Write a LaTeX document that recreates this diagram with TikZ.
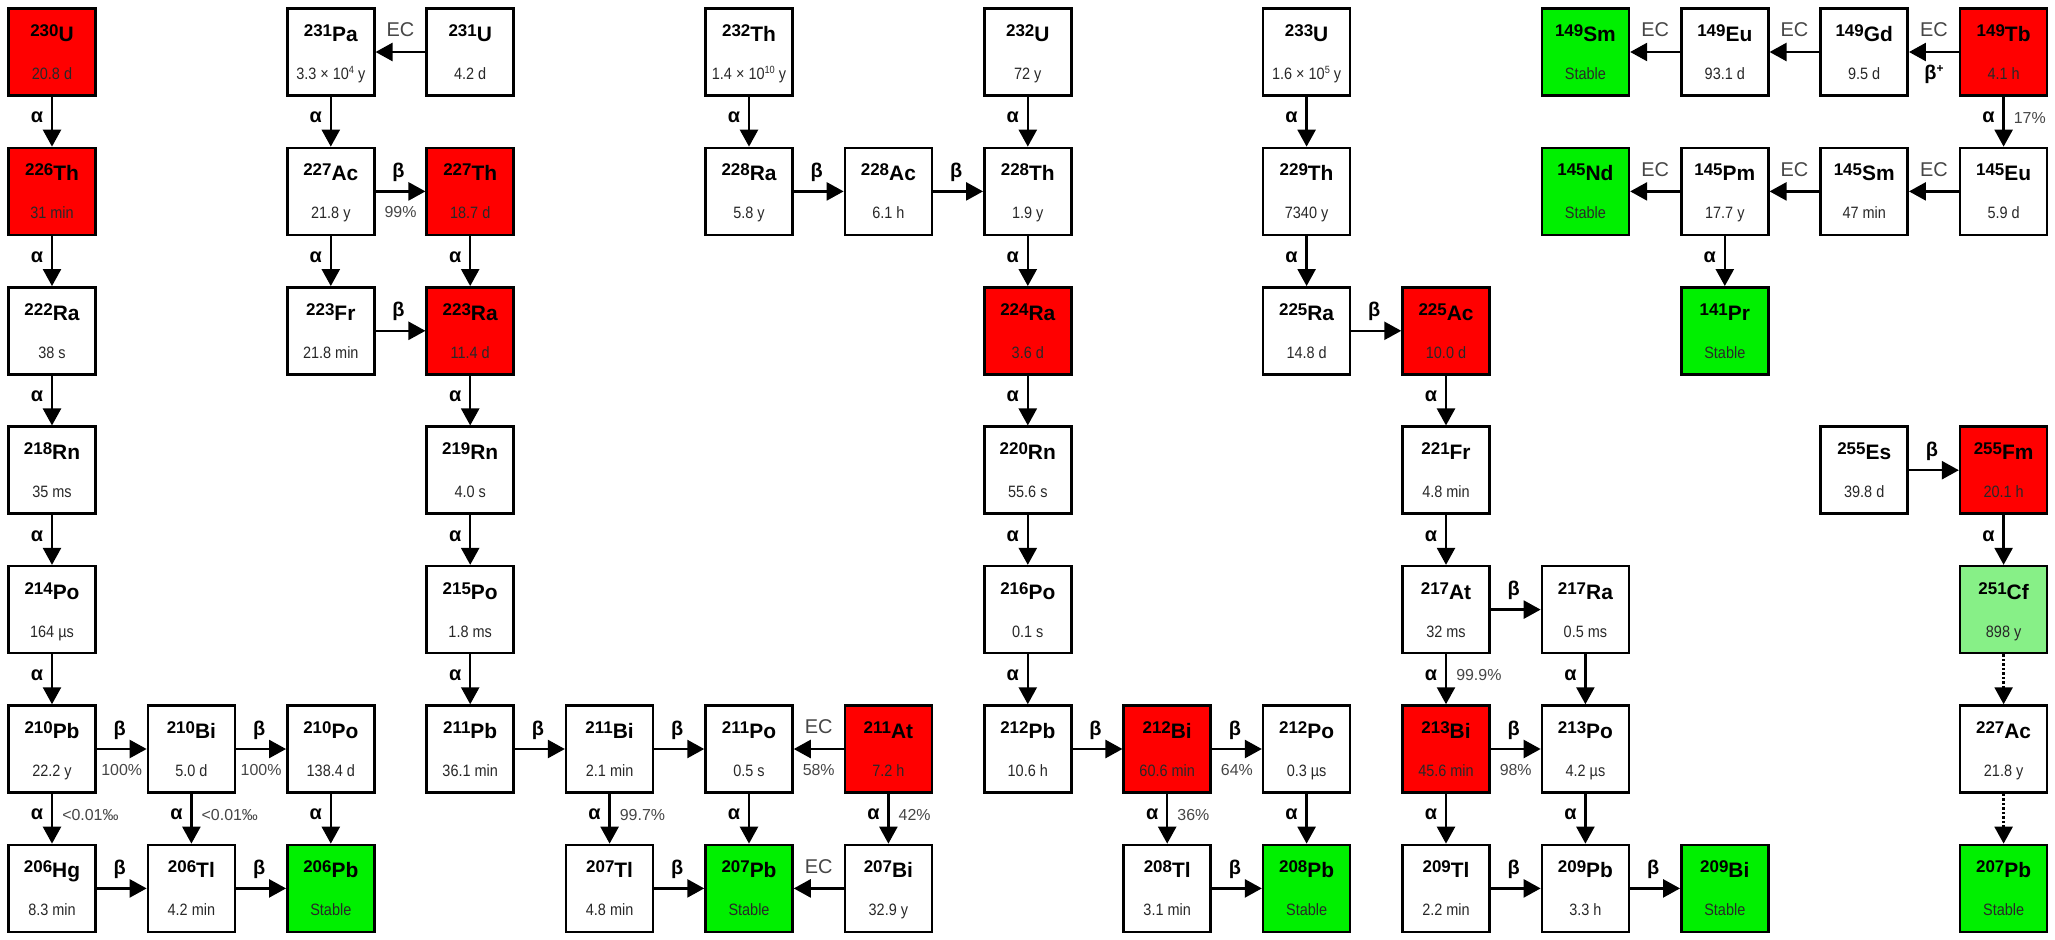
\documentclass[tikz,border=0pt]{standalone}
\usepackage{fontspec}
\setmainfont{Liberation Sans}
\newfontfamily\hlfont[FakeStretch=0.88]{Liberation Sans}
\usetikzlibrary{arrows.meta}
\definecolor{nred}{RGB}{255,0,0}
\definecolor{ngreen}{RGB}{0,240,0}
\definecolor{lgreen}{RGB}{135,240,135}
\definecolor{htext}{RGB}{40,40,40}
\definecolor{lbl}{RGB}{70,70,70}
\newcommand{\iso}[2]{\rule{0pt}{22bp}{\fontsize{17}{17}\selectfont\bfseries\raisebox{5bp}{#1}}{\fontsize{21}{21}\selectfont\bfseries #2}}
\newcommand{\hlt}[1]{{\fontsize{16.5}{38}\hlfont\color{htext}#1}\rule[-5bp]{0pt}{5bp}}
\newcommand{\tenp}[1]{\raisebox{5.5bp}{\fontsize{10.5}{10}\selectfont #1}}
\newcommand{\nuclide}[7]{\node[nucbox,fill=#7] (#1) at ({52+139.4*#2},{-52-139.4*#3}) {\iso{#4}{#5}\\\hlt{#6}};}
\begin{document}
\begin{tikzpicture}[x=1bp,y=1bp,
  nucbox/.style={draw, line width=2.5bp, minimum size=87bp, inner sep=0pt, align=center, font=\fontsize{16}{38}\selectfont},
  arr/.style={line width=2.5bp, -{Triangle[length=17bp,width=18bp]}},
  dotarr/.style={arr, dash pattern=on 2.5bp off 2bp},
  al/.style={font=\fontsize{20}{20}\selectfont\bfseries, inner sep=0pt},
  ec/.style={font=\fontsize{20}{20}\selectfont, text=lbl, inner sep=0pt},
  pc/.style={font=\fontsize{16}{16}\selectfont, text=lbl, inner sep=0pt},
  va/.style={al, midway, xshift=-15bp, yshift=4bp},
  vp/.style={pc, midway, anchor=west, xshift=9bp, yshift=4bp},
  hb/.style={al, midway, xshift=-2bp, yshift=19bp},
  hp/.style={pc, midway, yshift=-21bp},
  hec/.style={ec, midway, yshift=22bp},
  hbp/.style={al, midway, yshift=-22bp}]
\fill[white] (0,0) rectangle (2055,-940);
\useasboundingbox (0,0) rectangle (2055,-940);
% nuclides
\nuclide{u230}{0}{0}{230}{U}{20.8 d}{nred}
\nuclide{th226}{0}{1}{226}{Th}{31 min}{nred}
\nuclide{ra222}{0}{2}{222}{Ra}{38 s}{white}
\nuclide{rn218}{0}{3}{218}{Rn}{35 ms}{white}
\nuclide{po214}{0}{4}{214}{Po}{164 µs}{white}
\nuclide{pb210}{0}{5}{210}{Pb}{22.2 y}{white}
\nuclide{hg206}{0}{6}{206}{Hg}{8.3 min}{white}
\nuclide{bi210}{1}{5}{210}{Bi}{5.0 d}{white}
\nuclide{tl206}{1}{6}{206}{Tl}{4.2 min}{white}
\nuclide{pa231}{2}{0}{231}{Pa}{3.3 × 10\tenp{4} y}{white}
\nuclide{ac227}{2}{1}{227}{Ac}{21.8 y}{white}
\nuclide{fr223}{2}{2}{223}{Fr}{21.8 min}{white}
\nuclide{po210}{2}{5}{210}{Po}{138.4 d}{white}
\nuclide{pb206}{2}{6}{206}{Pb}{Stable}{ngreen}
\nuclide{u231}{3}{0}{231}{U}{4.2 d}{white}
\nuclide{th227}{3}{1}{227}{Th}{18.7 d}{nred}
\nuclide{ra223}{3}{2}{223}{Ra}{11.4 d}{nred}
\nuclide{rn219}{3}{3}{219}{Rn}{4.0 s}{white}
\nuclide{po215}{3}{4}{215}{Po}{1.8 ms}{white}
\nuclide{pb211}{3}{5}{211}{Pb}{36.1 min}{white}
\nuclide{bi211}{4}{5}{211}{Bi}{2.1 min}{white}
\nuclide{tl207}{4}{6}{207}{Tl}{4.8 min}{white}
\nuclide{th232}{5}{0}{232}{Th}{1.4 × 10\tenp{10} y}{white}
\nuclide{ra228}{5}{1}{228}{Ra}{5.8 y}{white}
\nuclide{po211}{5}{5}{211}{Po}{0.5 s}{white}
\nuclide{pb207}{5}{6}{207}{Pb}{Stable}{ngreen}
\nuclide{ac228}{6}{1}{228}{Ac}{6.1 h}{white}
\nuclide{at211}{6}{5}{211}{At}{7.2 h}{nred}
\nuclide{bi207}{6}{6}{207}{Bi}{32.9 y}{white}
\nuclide{u232}{7}{0}{232}{U}{72 y}{white}
\nuclide{th228}{7}{1}{228}{Th}{1.9 y}{white}
\nuclide{ra224}{7}{2}{224}{Ra}{3.6 d}{nred}
\nuclide{rn220}{7}{3}{220}{Rn}{55.6 s}{white}
\nuclide{po216}{7}{4}{216}{Po}{0.1 s}{white}
\nuclide{pb212}{7}{5}{212}{Pb}{10.6 h}{white}
\nuclide{bi212}{8}{5}{212}{Bi}{60.6 min}{nred}
\nuclide{tl208}{8}{6}{208}{Tl}{3.1 min}{white}
\nuclide{u233}{9}{0}{233}{U}{1.6 × 10\tenp{5} y}{white}
\nuclide{th229}{9}{1}{229}{Th}{7340 y}{white}
\nuclide{ra225}{9}{2}{225}{Ra}{14.8 d}{white}
\nuclide{po212}{9}{5}{212}{Po}{0.3 µs}{white}
\nuclide{pb208}{9}{6}{208}{Pb}{Stable}{ngreen}
\nuclide{ac225}{10}{2}{225}{Ac}{10.0 d}{nred}
\nuclide{fr221}{10}{3}{221}{Fr}{4.8 min}{white}
\nuclide{at217}{10}{4}{217}{At}{32 ms}{white}
\nuclide{bi213}{10}{5}{213}{Bi}{45.6 min}{nred}
\nuclide{tl209}{10}{6}{209}{Tl}{2.2 min}{white}
\nuclide{sm149}{11}{0}{149}{Sm}{Stable}{ngreen}
\nuclide{nd145}{11}{1}{145}{Nd}{Stable}{ngreen}
\nuclide{ra217}{11}{4}{217}{Ra}{0.5 ms}{white}
\nuclide{po213}{11}{5}{213}{Po}{4.2 µs}{white}
\nuclide{pb209}{11}{6}{209}{Pb}{3.3 h}{white}
\nuclide{eu149}{12}{0}{149}{Eu}{93.1 d}{white}
\nuclide{pm145}{12}{1}{145}{Pm}{17.7 y}{white}
\nuclide{pr141}{12}{2}{141}{Pr}{Stable}{ngreen}
\nuclide{bi209}{12}{6}{209}{Bi}{Stable}{ngreen}
\nuclide{gd149}{13}{0}{149}{Gd}{9.5 d}{white}
\nuclide{sm145}{13}{1}{145}{Sm}{47 min}{white}
\nuclide{es255}{13}{3}{255}{Es}{39.8 d}{white}
\nuclide{tb149}{14}{0}{149}{Tb}{4.1 h}{nred}
\nuclide{eu145}{14}{1}{145}{Eu}{5.9 d}{white}
\nuclide{fm255}{14}{3}{255}{Fm}{20.1 h}{nred}
\nuclide{cf251}{14}{4}{251}{Cf}{898 y}{lgreen}
\nuclide{acb227}{14}{5}{227}{Ac}{21.8 y}{white}
\nuclide{pbb207}{14}{6}{207}{Pb}{Stable}{ngreen}
% decays: chain 1
\draw[arr] (u230) -- (th226) node[va]{α};
\draw[arr] (th226) -- (ra222) node[va]{α};
\draw[arr] (ra222) -- (rn218) node[va]{α};
\draw[arr] (rn218) -- (po214) node[va]{α};
\draw[arr] (po214) -- (pb210) node[va]{α};
\draw[arr] (pb210) -- (hg206) node[va]{α} node[vp]{<0.01‰};
\draw[arr] (pb210) -- (bi210) node[hb]{β} node[hp]{100\%};
\draw[arr] (bi210) -- (po210) node[hb]{β} node[hp]{100\%};
\draw[arr] (bi210) -- (tl206) node[va]{α} node[vp]{<0.01‰};
\draw[arr] (po210) -- (pb206) node[va]{α};
\draw[arr] (hg206) -- (tl206) node[hb]{β};
\draw[arr] (tl206) -- (pb206) node[hb]{β};
% chain 2
\draw[arr] (u231) -- (pa231) node[hec]{EC};
\draw[arr] (pa231) -- (ac227) node[va]{α};
\draw[arr] (ac227) -- (th227) node[hb]{β} node[hp]{99\%};
\draw[arr] (ac227) -- (fr223) node[va]{α};
\draw[arr] (th227) -- (ra223) node[va]{α};
\draw[arr] (fr223) -- (ra223) node[hb]{β};
\draw[arr] (ra223) -- (rn219) node[va]{α};
\draw[arr] (rn219) -- (po215) node[va]{α};
\draw[arr] (po215) -- (pb211) node[va]{α};
\draw[arr] (pb211) -- (bi211) node[hb]{β};
\draw[arr] (bi211) -- (po211) node[hb]{β};
\draw[arr] (bi211) -- (tl207) node[va]{α} node[vp]{99.7\%};
\draw[arr] (po211) -- (pb207) node[va]{α};
\draw[arr] (at211) -- (po211) node[hec]{EC} node[hp]{58\%};
\draw[arr] (at211) -- (bi207) node[va]{α} node[vp]{42\%};
\draw[arr] (tl207) -- (pb207) node[hb]{β};
\draw[arr] (bi207) -- (pb207) node[hec]{EC};
% chain 3
\draw[arr] (th232) -- (ra228) node[va]{α};
\draw[arr] (ra228) -- (ac228) node[hb]{β};
\draw[arr] (ac228) -- (th228) node[hb]{β};
\draw[arr] (u232) -- (th228) node[va]{α};
\draw[arr] (th228) -- (ra224) node[va]{α};
\draw[arr] (ra224) -- (rn220) node[va]{α};
\draw[arr] (rn220) -- (po216) node[va]{α};
\draw[arr] (po216) -- (pb212) node[va]{α};
\draw[arr] (pb212) -- (bi212) node[hb]{β};
\draw[arr] (bi212) -- (po212) node[hb]{β} node[hp]{64\%};
\draw[arr] (bi212) -- (tl208) node[va]{α} node[vp]{36\%};
\draw[arr] (po212) -- (pb208) node[va]{α};
\draw[arr] (tl208) -- (pb208) node[hb]{β};
% chain 4
\draw[arr] (u233) -- (th229) node[va]{α};
\draw[arr] (th229) -- (ra225) node[va]{α};
\draw[arr] (ra225) -- (ac225) node[hb]{β};
\draw[arr] (ac225) -- (fr221) node[va]{α};
\draw[arr] (fr221) -- (at217) node[va]{α};
\draw[arr] (at217) -- (ra217) node[hb]{β};
\draw[arr] (at217) -- (bi213) node[va]{α} node[vp]{99.9\%};
\draw[arr] (ra217) -- (po213) node[va]{α};
\draw[arr] (bi213) -- (po213) node[hb]{β} node[hp]{98\%};
\draw[arr] (bi213) -- (tl209) node[va]{α};
\draw[arr] (po213) -- (pb209) node[va]{α};
\draw[arr] (tl209) -- (pb209) node[hb]{β};
\draw[arr] (pb209) -- (bi209) node[hb]{β};
% terbium
\draw[arr] (tb149) -- (gd149) node[hec]{EC} node[hbp]{β\raisebox{7bp}{\fontsize{12}{12}\selectfont +}};
\draw[arr] (gd149) -- (eu149) node[hec]{EC};
\draw[arr] (eu149) -- (sm149) node[hec]{EC};
\draw[arr] (tb149) -- (eu145) node[va]{α} node[vp]{17\%};
\draw[arr] (eu145) -- (sm145) node[hec]{EC};
\draw[arr] (sm145) -- (pm145) node[hec]{EC};
\draw[arr] (pm145) -- (nd145) node[hec]{EC};
\draw[arr] (pm145) -- (pr141) node[va]{α};
% fermium
\draw[arr] (es255) -- (fm255) node[hb]{β};
\draw[arr] (fm255) -- (cf251) node[va]{α};
\draw[dotarr] (cf251) -- (acb227);
\draw[dotarr] (acb227) -- (pbb207);
\end{tikzpicture}
\end{document}
